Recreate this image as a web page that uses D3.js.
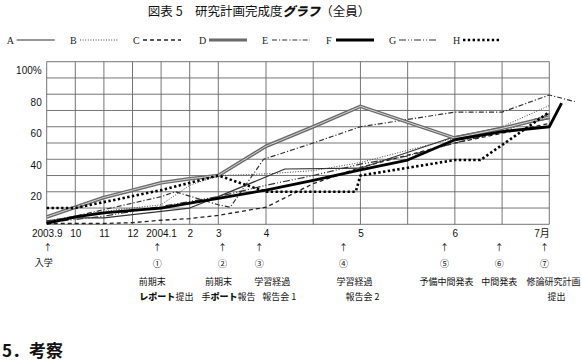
<!DOCTYPE html>
<html>
<head>
<meta charset="utf-8">
<script src="https://cdn.jsdelivr.net/npm/d3@7"></script>
<style>
  html, body { margin: 0; padding: 0; background: #fff; }
  svg { display: block; }
  .jp { font-family: "Noto Sans CJK JP", sans-serif; fill: #111; }
</style>
</head>
<body>
<div id="chart"></div>
<script>
// ---- data (month index: 0 = 2003.9 … 10 = 2004.7) ----
var seriesNames = ["A", "B", "C", "D", "E", "F", "G", "H"];
var A = [[0,2],[1,4],[2,4],[3,6],[4,8],[5,10],[6,17],[7.2,34],[8,34.5],[9,54],[10,65]];
var B = [[0,2],[1,5],[2,8],[3,10],[4,12],[5,24],[6,30],[7,31],[7.5,33],[8,38],[9,53],[9.5,60],[10,73]];
var C = [[0,0.5],[1,0.5],[2,0.5],[3,1],[4,2.5],[5,3.5],[6,5.5],[7,10.5],[7.5,25],[8,35],[9,50],[10,62]];
var D = [[0,4.5],[1,10.5],[2,16.5],[3,21],[4,25.5],[5,28],[6,30],[7,48],[7.5,60],[8,72.5],[9,53],[9.5,59],[10,66]];
var E = [[0,2],[1,5],[2,9],[3,13],[4,17],[4.5,20],[6,12],[6.25,10.5],[6.95,40],[7.5,50],[8,60],[9,69],[9.5,69],[10,79.5],[10.27,75.5]];
var F = [[0,0.5],[1,4.5],[2,7],[3,8.5],[4,10],[5,13],[6,16],[7,21],[7.5,27],[8,33.5],[8.5,39.5],[9,52],[9.5,57],[10,60],[10.13,74.5]];
var G = [[0,1],[1,3],[2,5],[3,8],[4,11],[5,14],[6,17],[7,24],[7.5,30],[8,37],[8.5,42],[9,50],[9.5,57],[10,68]];
var H = [[0,10],[1,10],[4,21],[6,30],[7,20],[7.95,20],[8,30],[9,39.5],[9.27,39.5],[10,69]];
var seriesValues = [A, B, C, D, E, F, G, H];

var gridMonths = [0,1,2,3,4,5,6,7,7.5,8,8.5,9,9.5,10];
var tickMonths = [0,1,2,3,4,5,6,7,8,9,10];
var tickLabels = ["2003.9","10","11","12","2004.1","2","3","4","5","6","7月"];
var yGrid = [0,10,20,30,40,50,60,70,80,90,100];
var yTicks = [20,40,60,80,100];
var yTickLabels = ["20","40","60","80","100%"];

// events under the axis
var eventMonths = [3.87, 6.09, 6.86, 7.82, 8.89, 9.47, 9.95];
var eventMarks = ["①","②","③","④","⑤","⑥","⑦"];
var eventLine1 = ["前期末","前期末","学習経過","学習経過","予備中間発表","中間発表","修論研究計画"];
var eventLine2 = [["","レポート","提出"],["手","ポート","報告"],["報告会 1","",""],["報告会 2","",""],["","",""],["","",""],["提出","",""]];
var entryMonth = 0, entryLabel = "入学";

// ---- styles / layout ----
var styles = {
  A: { stroke: "#333", width: 1.2, dash: null },
  B: { stroke: "#444", width: 1, dash: "1 1.6" },
  C: { stroke: "#222", width: 1.3, dash: "4 3" },
  D: { stroke: "#6a6a6a", width: 3.6, dash: null, inner: "#d4d4d4" },
  E: { stroke: "#333", width: 1.2, dash: "5 2 1.2 2" },
  F: { stroke: "#000", width: 2.8, dash: null },
  G: { stroke: "#333", width: 1.2, dash: "7 2 1 2 1 2" },
  H: { stroke: "#000", width: 2.6, dash: "2.4 2.4" }
};
var W = 582, Hh = 363;
var line1Dx = [-5, -4, 13, 11, 2, 0, -18];
var line2Dx = [9, 6, 20, 19, 0, 0, 12];

var svg = d3.select("#chart").append("svg").attr("width", W).attr("height", Hh);

var x = d3.scaleLinear().domain([0, 6, 7, 10]).range([46.7, 218.3, 266, 549.3]);
var y = d3.scaleLinear().domain([0, 100]).range([224.3, 61.7]);

// title
var title = svg.append("text").attr("class", "jp")
  .attr("x", 259).attr("y", 16).attr("text-anchor", "middle").attr("font-size", 12.5);
title.append("tspan").text("図表 5　研究計画完成度");
title.append("tspan").attr("font-weight", 900).attr("font-style", "italic").text("グラフ");
title.append("tspan").text("（全員）");

// legend
var legX = [6.7, 70, 133, 199, 262, 326, 389, 453];
var legG = svg.append("g");
seriesNames.forEach(function (k, i) {
  var st = styles[k];
  legG.append("text").attr("x", legX[i]).attr("y", 43.5)
    .attr("font-family", "Liberation Serif, serif").attr("font-size", 10).attr("fill", "#222").text(k);
  var lx0 = legX[i] + 10, lx1 = legX[i] + 48;
  legG.append("line").attr("x1", lx0).attr("x2", lx1).attr("y1", 40).attr("y2", 40)
    .attr("stroke", st.stroke).attr("stroke-width", Math.min(st.width, 3.2))
    .attr("stroke-dasharray", st.dash);
});

// gridlines
var grid = svg.append("g");
grid.selectAll(".hg").data(yGrid).enter().append("line")
  .attr("x1", x(0)).attr("x2", x(10))
  .attr("y1", function (d) { return y(d); }).attr("y2", function (d) { return y(d); })
  .attr("stroke", "#666").attr("stroke-width", 0.9);
grid.selectAll(".vg").data(gridMonths).enter().append("line")
  .attr("y1", y(0)).attr("y2", y(100))
  .attr("x1", function (d) { return x(d); }).attr("x2", function (d) { return x(d); })
  .attr("stroke", "#666").attr("stroke-width", 0.9);

// axes (labels only)
var xAxis = svg.append("g").attr("transform", "translate(0," + y(0) + ")")
  .call(d3.axisBottom(x).tickValues(tickMonths).tickSize(0).tickPadding(6)
    .tickFormat(function (d, i) { return tickLabels[i]; }));
xAxis.select(".domain").remove();
xAxis.selectAll("text").attr("font-size", 10).attr("fill", "#111")
  .style("font-family", "'Liberation Sans Narrow', 'Liberation Sans', 'Noto Sans CJK JP', sans-serif")
  .attr("text-anchor", function (d, i) { return i === tickLabels.length - 1 ? "end" : "middle"; });

var yAxis = svg.append("g").attr("transform", "translate(" + x(0) + ",0)")
  .call(d3.axisLeft(y).tickValues(yTicks).tickSize(0).tickPadding(5)
    .tickFormat(function (d, i) { return yTickLabels[i]; }));
yAxis.select(".domain").remove();
yAxis.selectAll("text").attr("font-size", 10).attr("fill", "#111")
  .style("font-family", "'Liberation Sans Narrow', 'Liberation Sans', sans-serif")
  .attr("dy", function (d) { return (0.32 + (4 + d * 0.05) / 10) + "em"; });

// series
var lineGen = d3.line().x(function (p) { return x(p[0]); }).y(function (p) { return y(p[1]); });
var order = ["C", "G", "A", "B", "E", "D", "H", "F"];
order.forEach(function (k) {
  var i = seriesNames.indexOf(k), st = styles[k];
  svg.append("path").datum(seriesValues[i]).attr("fill", "none")
    .attr("stroke", st.stroke).attr("stroke-width", st.width)
    .attr("stroke-dasharray", st.dash).attr("stroke-linejoin", "round")
    .attr("d", lineGen);
  if (st.inner) {
    svg.append("path").datum(seriesValues[i]).attr("fill", "none")
      .attr("stroke", st.inner).attr("stroke-width", 1).attr("d", lineGen);
  }
});

// event annotations
var ev = svg.append("g").attr("class", "jp").attr("font-size", 9);
ev.append("text").attr("x", x(entryMonth) + 1).attr("y", 251).attr("text-anchor", "middle").text("↑");
ev.append("text").attr("x", x(entryMonth) - 3).attr("y", 266).attr("text-anchor", "middle").text(entryLabel);
eventMonths.forEach(function (m, i) {
  var cx = x(m);
  var last = i === eventMonths.length - 1;
  ev.append("text").attr("x", cx).attr("y", 251).attr("text-anchor", "middle").text("↑");
  ev.append("text").attr("x", cx).attr("y", 267).attr("text-anchor", "middle").text(eventMarks[i]);
  ev.append("text").attr("x", cx + line1Dx[i])
    .attr("y", 284.5).attr("text-anchor", last ? "start" : "middle").text(eventLine1[i]);
  var parts = eventLine2[i];
  if (parts.join("") !== "") {
    var t = ev.append("text").attr("x", cx + line2Dx[i]).attr("y", 300).attr("text-anchor", "middle");
    parts.forEach(function (p, j) {
      if (p) t.append("tspan").attr("font-weight", j === 1 ? 900 : 400).text(p);
    });
  }
});

// following section heading
svg.append("text").attr("class", "jp").attr("x", 2).attr("y", 357)
  .attr("font-size", 17).attr("font-weight", 700).text("5．考察");
</script>
</body>
</html>
